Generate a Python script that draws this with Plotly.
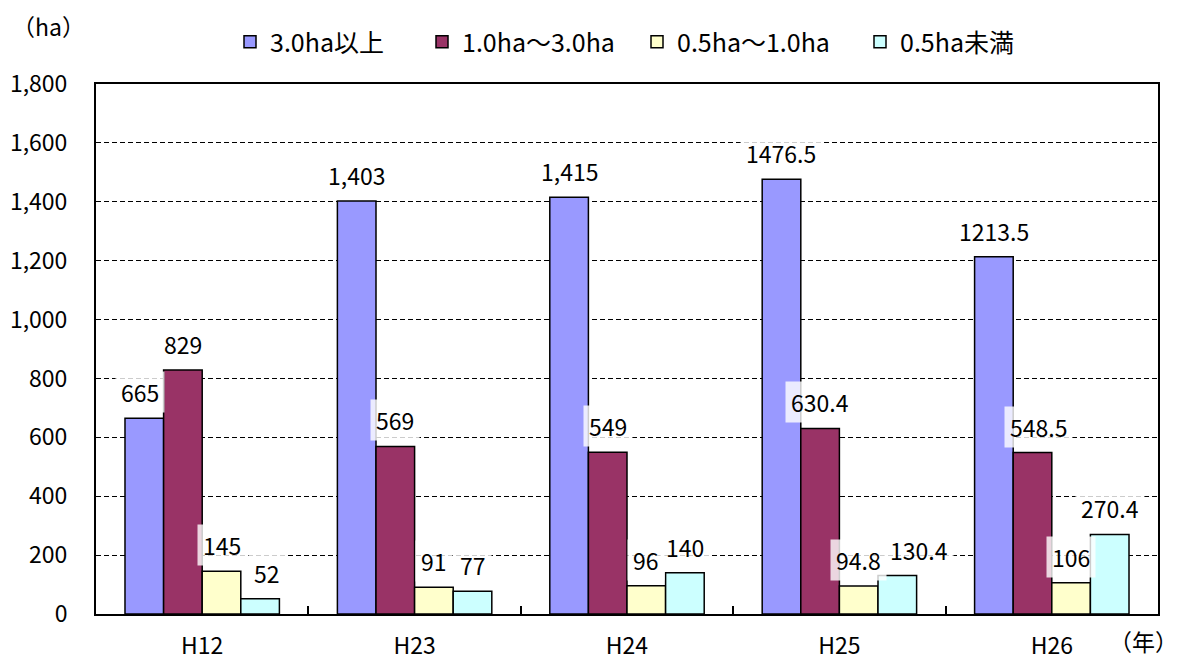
import plotly.graph_objects as go

# 年次別・経営規模別の面積（ha）
years = ["H12", "H23", "H24", "H25", "H26"]
series_names = ["3.0ha以上", "1.0ha～3.0ha", "0.5ha～1.0ha", "0.5ha未満"]
over_3 = [665, 1403, 1415, 1476.5, 1213.5]
from_1_to_3 = [829, 569, 549, 630.4, 548.5]
from_05_to_1 = [145, 91, 96, 94.8, 106]
under_05 = [52, 77, 140, 130.4, 270.4]
label_texts = [
    ["665", "1,403", "1,415", "1476.5", "1213.5"],
    ["829", "569", "549", "630.4", "548.5"],
    ["145", "91", "96", "94.8", "106"],
    ["52", "77", "140", "130.4", "270.4"],
]
y_ticks = [0, 200, 400, 600, 800, 1000, 1200, 1400, 1600, 1800]

values = [over_3, from_1_to_3, from_05_to_1, under_05]
colors = ["#9999FF", "#993366", "#FFFFCC", "#CCFFFF"]

# horizontal nudges (px) for a few crowded labels: (series, year) -> shift
label_nudge = {(0, 0): -4, (1, 4): 6, (3, 0): 7, (3, 3): 22}
# left edge (px) of each legend entry
legend_left = [230, 422, 637, 860]

FONT = "Noto Sans CJK JP, Noto Sans, sans-serif"
W, H = 1184, 662
ML, MR, MT, MB = 96, 26, 84, 48
BARGAP = 0.273
n = len(values)
bar_w = (1 - BARGAP) / n
pw = W - ML - MR
ph = H - MT - MB

fig = go.Figure()
legend_cfg = {}
for k, (name, vals, col) in enumerate(zip(series_names, values, colors)):
    lg = "legend" if k == 0 else f"legend{k + 1}"
    fig.add_trace(go.Bar(
        x=years, y=vals, name=name, legend=lg,
        marker=dict(color=col, line=dict(color="black", width=1.5)),
    ))
    legend_cfg[lg] = dict(
        orientation="h", x=(legend_left[k] - ML) / pw, y=1 + (MT - 42) / ph,
        xanchor="left", yanchor="middle",
        font=dict(family=FONT, size=25, color="black"),
        bgcolor="rgba(0,0,0,0)",
    )

# data labels above each bar, with translucent white boxes
annotations = []
for j, (vals, texts) in enumerate(zip(values, label_texts)):
    for i, (v, t) in enumerate(zip(vals, texts)):
        xc = i - (1 - BARGAP) / 2 + (j + 0.5) * bar_w
        annotations.append(dict(
            x=xc, y=v, xref="x", yref="y", text=t, showarrow=False,
            xanchor="center", yanchor="bottom", yshift=5,
            xshift=label_nudge.get((j, i), 0),
            font=dict(family=FONT, size=23, color="black"),
            bgcolor="rgba(255,255,255,0.8)", borderpad=5, height=30,
        ))

annotations.append(dict(
    x=(10 - ML) / pw, y=1 + (MT - 26) / ph, xref="paper", yref="paper",
    text="（ha）", showarrow=False, xanchor="left", yanchor="middle",
    font=dict(family=FONT, size=23, color="black"),
))
annotations.append(dict(
    x=(1180 - ML) / pw, y=-(660 - (H - MB)) / ph, xref="paper", yref="paper",
    text="（年）", showarrow=False, xanchor="right", yanchor="bottom",
    font=dict(family=FONT, size=23, color="black"),
))

fig.update_layout(
    width=W, height=H,
    margin=dict(l=ML, r=MR, t=MT, b=MB, autoexpand=False),
    paper_bgcolor="white", plot_bgcolor="white",
    barmode="group", bargap=BARGAP, bargroupgap=0,
    font=dict(family=FONT, size=23, color="black"),
    showlegend=True,
    annotations=annotations,
    **legend_cfg,
)
fig.update_xaxes(
    type="category", showline=True, linecolor="black", linewidth=2, mirror=True,
    ticks="inside", ticklen=8, tickcolor="black", tickwidth=1.5,
    tickson="boundaries", showgrid=False, ticklabelstandoff=10, automargin=False,
    tickfont=dict(family=FONT, size=23, color="black"),
)
fig.update_yaxes(
    range=[0, 1800], tickvals=y_ticks,
    ticktext=[f"{v:,}" for v in y_ticks],
    showline=True, linecolor="black", linewidth=2, mirror=True,
    showgrid=True, gridcolor="black", gridwidth=1, griddash="5px,3px",
    ticks="", ticklabelstandoff=22, zeroline=False, automargin=False,
    tickfont=dict(family=FONT, size=23, color="black"),
)

fig.write_html("out.html")
